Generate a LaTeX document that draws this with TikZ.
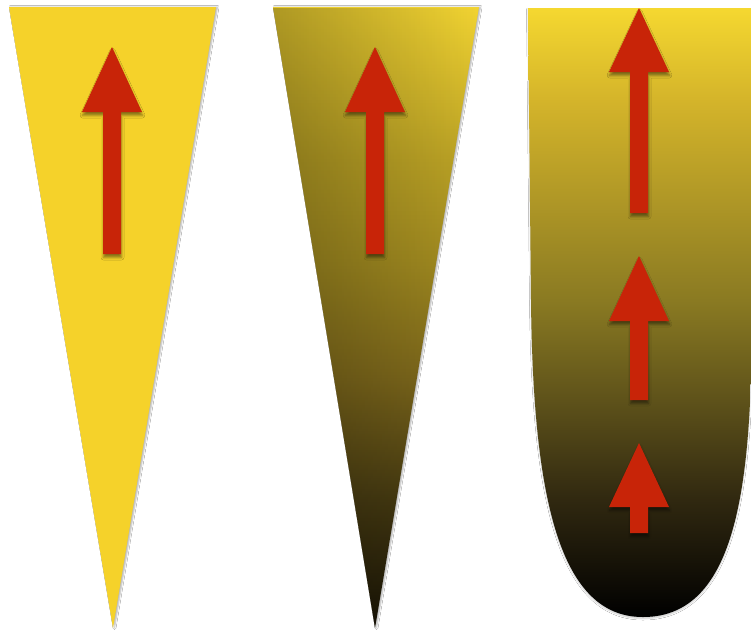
\documentclass[tikz,border=0pt]{standalone}
\usetikzlibrary{shadows.blur,fadings}

% flat yellow cone and red arrows
\definecolor{conefill}{RGB}{245,210,42}
\definecolor{arrowred}{RGB}{200,36,8}

% tube: yellow at the top fading to black at the bottom
\definecolor{tubeA}{RGB}{0,0,0}
\definecolor{tubeB}{RGB}{48,40,16}
\definecolor{tubeC}{RGB}{94,82,26}
\definecolor{tubeD}{RGB}{138,122,34}
\definecolor{tubeE}{RGB}{212,180,42}
\definecolor{tubeF}{RGB}{245,216,48}
\pgfdeclareverticalshading{tubefade}{100bp}{%
  color(0bp)=(tubeA); color(25bp)=(tubeA); color(34.6bp)=(tubeB);
  color(42.8bp)=(tubeC); color(51bp)=(tubeD); color(67.4bp)=(tubeE);
  color(75bp)=(tubeF); color(100bp)=(tubeF)}

% shaded cone: dark at the tip, yellow at the top
\definecolor{coneA}{RGB}{25,20,6}
\definecolor{coneB}{RGB}{72,60,18}
\definecolor{coneC}{RGB}{128,106,28}
\definecolor{coneD}{RGB}{165,142,33}
\definecolor{coneE}{RGB}{190,165,38}
\definecolor{coneF}{RGB}{242,212,50}
\pgfdeclareverticalshading{conefade}{100bp}{%
  color(0bp)=(coneA); color(25bp)=(coneA); color(35.3bp)=(coneB);
  color(45bp)=(coneC); color(54.6bp)=(coneD); color(62.7bp)=(coneE);
  color(75bp)=(coneF); color(100bp)=(coneF)}
% extra darkening on the left side of the shaded cone
\tikzfading[name=leftdark, left color=transparent!0, right color=transparent!100]

\tikzset{
  coneshadow/.style={blur shadow={shadow xshift=1.5pt, shadow yshift=0pt,
      shadow blur radius=1.5pt, shadow opacity=30}},
  arrowbody/.style={fill=arrowred, blur shadow={shadow xshift=0.5pt,
      shadow yshift=-3.5pt, shadow blur radius=2.5pt, shadow opacity=45}},
}

% #1 centre x, #2 tip y, #3 head base y, #4 shaft bottom y
\newcommand\redarrow[4]{%
  \path[arrowbody] (#1,#2) -- (#1+30,#3) -- (#1+9,#3) -- (#1+9,#4)
    -- (#1-9,#4) -- (#1-9,#3) -- (#1-30,#3) -- cycle;}

\begin{document}
\begin{tikzpicture}[x=1pt, y=-1pt]
  \clip (0,0) rectangle (751,630);
  \fill[white] (0,0) rectangle (751,630);

  % flat cone
  \path[fill=conefill, coneshadow] (9,7) -- (216,7) -- (113,628) -- cycle;
  \redarrow{112}{47}{112}{254}

  % shaded cone
  \path[shading=conefade, coneshadow] (273,7) -- (479,7) -- (375,628) -- cycle;
  \fill[black, opacity=0.28, path fading=leftdark]
    (273,7) -- (479,7) -- (375,628) -- cycle;
  \redarrow{375}{47}{112}{254}

  % rounded tube
  \path[shading=tubefade, blur shadow={shadow xshift=0pt, shadow yshift=-1.5pt,
      shadow blur radius=1.5pt, shadow opacity=20}]
    (528,8) -- (760,8) -- (752,300)
    .. controls (752,470) and (742,617) .. (643,617)
    .. controls (560,617) and (533,500) .. (531,300) -- cycle;
  \redarrow{639}{8}{72}{213}
  \redarrow{639}{256}{321}{400}
  \redarrow{639}{443}{507}{533}
\end{tikzpicture}
\end{document}
